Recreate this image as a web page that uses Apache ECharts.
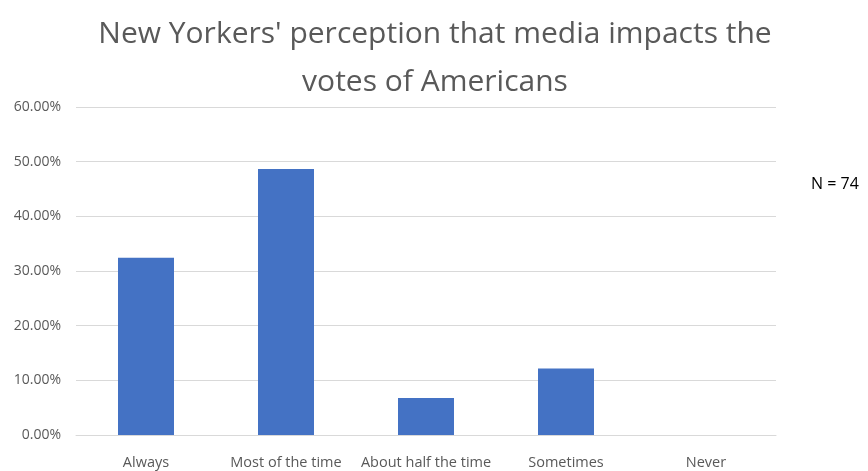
<!DOCTYPE html>
<html>
<head>
<meta charset="utf-8">
<script src="https://cdn.jsdelivr.net/npm/echarts@6/dist/echarts.min.js"></script>
<style>
  html, body { margin: 0; padding: 0; background: #fff; }
  #chart { width: 868px; height: 471px; }
</style>
</head>
<body>
<div id="chart"></div>
<script>
// answers and share of respondents (N = 74)
var categories = ['Always', 'Most of the time', 'About half the time', 'Sometimes', 'Never'];
var shares = [32.43, 48.65, 6.76, 12.16, 0];
var sampleNote = 'N = 74';

var font = '"Open Sans", sans-serif';
var chart = echarts.init(document.getElementById('chart'));

chart.setOption({
  animation: false,
  title: {
    text: "New Yorkers' perception that media impacts the\nvotes of Americans",
    left: 430,
    top: 5,
    textAlign: 'center',
    textStyle: {
      fontFamily: font,
      fontSize: 30,
      fontWeight: 'normal',
      color: '#595959',
      lineHeight: 48
    }
  },
  graphic: [{
    type: 'text',
    left: 811,
    top: 176,
    style: {
      text: sampleNote,
      font: '16px ' + font,
      fill: '#000'
    }
  }],
  grid: { left: 76, right: 92, top: 107, bottom: 36 },
  xAxis: {
    type: 'category',
    data: categories,
    axisTick: { show: false },
    axisLine: { lineStyle: { color: '#d9d9d9', width: 1 } },
    axisLabel: {
      color: '#595959',
      fontFamily: font,
      fontSize: 14.5,
      margin: 20,
      interval: 0
    }
  },
  yAxis: {
    type: 'value',
    min: 0,
    max: 60,
    interval: 10,
    axisLine: { show: false },
    axisTick: { show: false },
    splitLine: { lineStyle: { color: '#d9d9d9', width: 1 } },
    axisLabel: {
      color: '#595959',
      fontFamily: font,
      fontSize: 14,
      margin: 15,
      formatter: function (v) { return v.toFixed(2) + '%'; }
    }
  },
  series: [{
    type: 'bar',
    data: shares,
    barWidth: '40%',
    itemStyle: { color: '#4472c4' }
  }]
});
</script>
</body>
</html>
